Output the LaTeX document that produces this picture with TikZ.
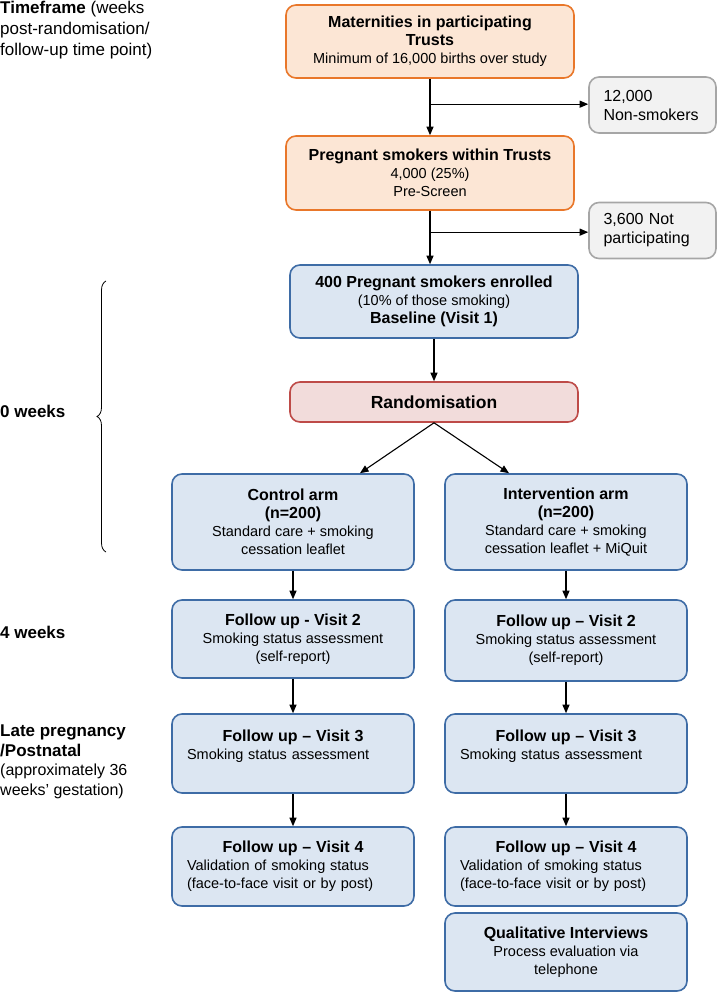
\documentclass[tikz,border=0pt]{standalone}
\usepackage{fontspec}
\setmainfont{Liberation Sans}
\usetikzlibrary{arrows.meta,calc,decorations.pathreplacing}
\definecolor{orgline}{HTML}{E9772A}
\definecolor{orgfill}{HTML}{FCE6D5}
\definecolor{bluline}{HTML}{3E6CA6}
\definecolor{blufill}{HTML}{DCE6F2}
\definecolor{redline}{HTML}{BE4B48}
\definecolor{redfill}{HTML}{F2DCDB}
\definecolor{gryline}{HTML}{A6A6A6}
\definecolor{gryfill}{HTML}{F2F2F2}
\newcommand{\boxhead}[1]{{\fontsize{16}{18}\selectfont\bfseries #1}}
\newcommand{\lblhead}[1]{{\fontsize{17}{19.5}\selectfont\bfseries #1}}
\newcommand{\ctrline}[1]{\makebox[212pt]{#1}}
\begin{document}
\begin{tikzpicture}[x=1pt,y=-1pt,
    box/.style={draw,rounded corners=10pt,line width=1.6pt,align=center,inner sep=2pt,
      font=\fontsize{14.5}{18}\selectfont},
    orangebox/.style={box,draw=orgline,fill=orgfill,minimum width=288pt,minimum height=73pt},
    bluebox/.style={box,draw=bluline,fill=blufill,minimum width=242pt,minimum height=79pt},
    leftbox/.style={bluebox,align=left,text width=212pt,inner xsep=15pt},
    greybox/.style={box,draw=gryline,fill=gryfill,align=left,text width=98pt,inner xsep=14.5pt,
      minimum height=56pt,font=\fontsize{16}{19}\selectfont},
    arr/.style={line width=1.1pt,-{Triangle[length=8.5pt,width=7pt]}},
    tlabel/.style={align=left,inner sep=0pt,font=\fontsize{16}{19.5}\selectfont}]
  \useasboundingbox (0,0) rectangle (717,992);
  %% timeframe column
  \node[tlabel,anchor=north west,font=\fontsize{17}{21}\selectfont] (tf) at (0,1)
    {\textbf{Timeframe} (weeks\\post-randomisation/\\follow-up time point)};
  \node[tlabel,anchor=west] (wk0) at (0,411) {\lblhead{0 weeks}};
  \node[tlabel,anchor=west] (wk4) at (0,632) {\lblhead{4 weeks}};
  \node[tlabel,anchor=west] (late) at (0,762)
    {\lblhead{Late pregnancy}\\\lblhead{/Postnatal}\\(approximately 36\\weeks’ gestation)};
  \draw[line width=0.8pt,decorate,decoration={brace,amplitude=9pt}] (106,552) -- (106,281);
  %% screening
  \node[orangebox] (mat) at (430,41.5)
    {\boxhead{Maternities in participating}\\\boxhead{Trusts}\\Minimum of 16,000 births over study};
  \node[greybox] (nonsmk) at (652.5,105) {12,000\\Non-smokers};
  \node[orangebox,minimum height=74pt] (preg) at (430,173)
    {\boxhead{Pregnant smokers within Trusts}\\4,000 (25\%)\\Pre-Screen};
  \node[greybox] (notpart) at (652.5,230.5) {3,600 Not\\participating};
  %% enrolment
  \node[bluebox,minimum width=288pt,minimum height=73pt] (enrol) at (434,301.5)
    {\boxhead{400 Pregnant smokers enrolled}\\(10\% of those smoking)\\\boxhead{Baseline (Visit 1)}};
  \node[box,draw=redline,fill=redfill,minimum width=288pt,minimum height=40pt,
    font=\fontsize{17.5}{20}\selectfont\bfseries] (rand) at (434,402) {Randomisation};
  %% control arm
  \node[bluebox,minimum height=96pt] (ctrl) at (293,522)
    {\boxhead{Control arm}\\\boxhead{(n=200)}\\Standard care + smoking\\cessation leaflet};
  \node[bluebox,minimum height=78pt] (v2c) at (293,639)
    {\boxhead{Follow up - Visit 2}\\Smoking status assessment\\(self-report)};
  \node[leftbox] (v3c) at (293,753.5)
    {\ctrline{\boxhead{Follow up – Visit 3}}\\Smoking status assessment\\\mbox{}};
  \node[leftbox] (v4c) at (293,866.5)
    {\ctrline{\boxhead{Follow up – Visit 4}}\\Validation of smoking status\\(face-to-face visit or by post)};
  %% intervention arm
  \node[bluebox,minimum height=96pt] (intv) at (566,522)
    {\boxhead{Intervention arm}\\\boxhead{(n=200)}\\Standard care + smoking\\cessation leaflet + MiQuit};
  \node[bluebox,minimum height=81pt] (v2i) at (566,640.5)
    {\boxhead{Follow up – Visit 2}\\Smoking status assessment\\(self-report)};
  \node[leftbox] (v3i) at (566,753.5)
    {\ctrline{\boxhead{Follow up – Visit 3}}\\Smoking status assessment\\\mbox{}};
  \node[leftbox] (v4i) at (566,866.5)
    {\ctrline{\boxhead{Follow up – Visit 4}}\\Validation of smoking status\\(face-to-face visit or by post)};
  \node[bluebox,minimum height=78pt] (qual) at (566,952)
    {\boxhead{Qualitative Interviews}\\Process evaluation via\\telephone};
  %% connectors
  \draw[arr] (mat.south) -- (preg.north);
  \coordinate (split1) at ($(mat.south)!0.45!(preg.north)$);
  \draw[arr] (split1) -- (split1 -| nonsmk.west);
  \draw[arr] (preg.south) -- (preg.south |- enrol.north);
  \coordinate (split2) at ($(preg.south)!0.4!(preg.south |- enrol.north)$);
  \draw[arr] (split2) -- (split2 -| notpart.west);
  \draw[arr] (enrol.south) -- (rand.north);
  \draw[arr] (rand.south) -- ([xshift=67pt]ctrl.north);
  \draw[arr] (rand.south) -- ([xshift=-57pt]intv.north);
  \foreach \a/\b in {ctrl/v2c,v2c/v3c,v3c/v4c,intv/v2i,v2i/v3i,v3i/v4i}
    \draw[arr] (\a.south) -- (\b.north);
\end{tikzpicture}
\end{document}
